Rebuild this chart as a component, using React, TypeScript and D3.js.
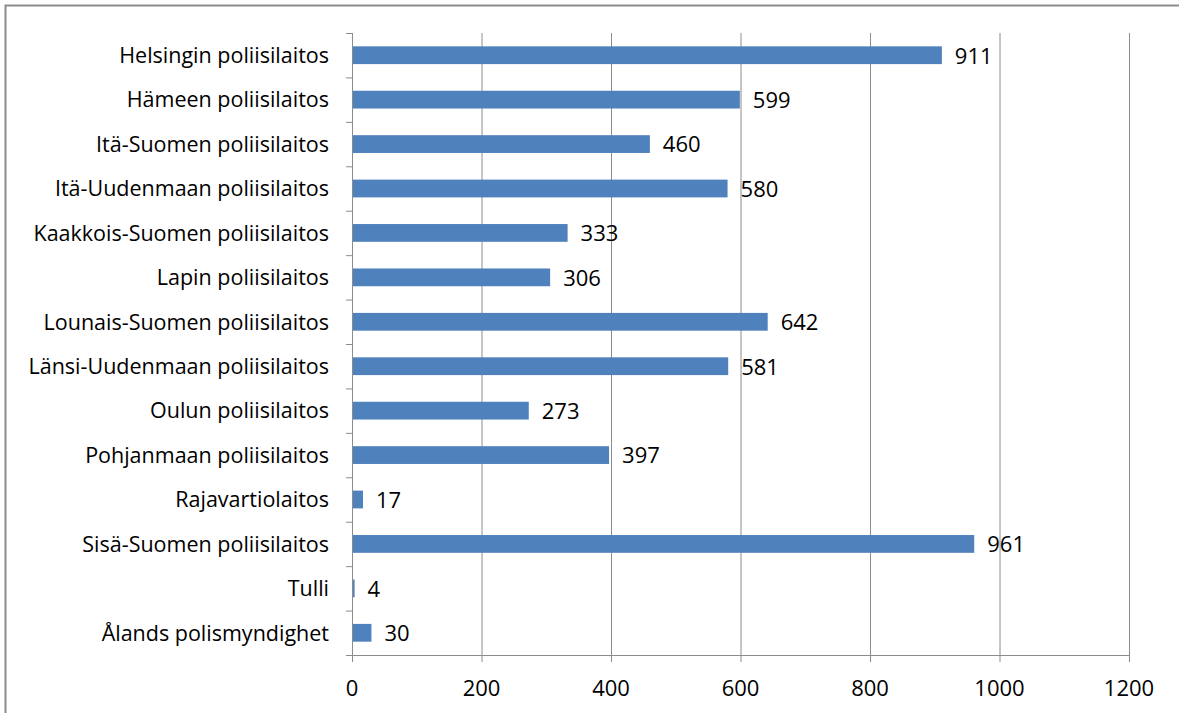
import { useEffect, useRef } from "react";
import * as d3 from "d3";

const categories = [
    "Helsingin poliisilaitos",
    "Hämeen poliisilaitos",
    "Itä-Suomen poliisilaitos",
    "Itä-Uudenmaan poliisilaitos",
    "Kaakkois-Suomen poliisilaitos",
    "Lapin poliisilaitos",
    "Lounais-Suomen poliisilaitos",
    "Länsi-Uudenmaan poliisilaitos",
    "Oulun poliisilaitos",
    "Pohjanmaan poliisilaitos",
    "Rajavartiolaitos",
    "Sisä-Suomen poliisilaitos",
    "Tulli",
    "Ålands polismyndighet",
];

const values = [911, 599, 460, 580, 333, 306, 642, 581, 273, 397, 17, 961, 4, 30];

const xTicks = [0, 200, 400, 600, 800, 1000, 1200];

const App = () => {
    const svgRef = useRef<SVGSVGElement>(null);

    useEffect(() => {
        const svg = d3.select(svgRef.current);
        svg.selectAll("*").remove();

        const width = 1179;
        const height = 713;
        const left = 352;
        const right = 1129;
        const top = 33;
        const bottom = 655;
        const font = "'Open Sans', 'Noto Sans', sans-serif";

        svg.attr("width", width).attr("height", height);

        // outer chart frame (only top and left edges visible)
        svg.append("path")
            .attr("d", `M5.5,${height} L5.5,5.5 L${width},5.5`)
            .attr("fill", "none")
            .attr("stroke", "#8c8c8c")
            .attr("stroke-width", 2);

        const x = d3.scaleLinear().domain([0, 1200]).range([left, right]);
        const y = d3.scaleBand().domain(categories).range([top, bottom]).paddingInner(0.6).paddingOuter(0.3);
        const yb = d3.scaleBand().domain(categories).range([top, bottom]);

        // gridlines
        svg.selectAll(".grid")
            .data(xTicks.slice(1))
            .enter()
            .append("line")
            .attr("x1", (d) => x(d) + 0.5)
            .attr("x2", (d) => x(d) + 0.5)
            .attr("y1", top)
            .attr("y2", bottom)
            .attr("stroke", "#8c8c8c")
            .attr("stroke-width", 1);

        // bars
        svg.selectAll(".bar")
            .data(values)
            .enter()
            .append("rect")
            .attr("x", x(0))
            .attr("y", (d, i) => y(categories[i])!)
            .attr("width", (d) => x(d) - x(0))
            .attr("height", y.bandwidth())
            .attr("fill", "#4f81bd");

        // value labels
        svg.selectAll(".val")
            .data(values)
            .enter()
            .append("text")
            .attr("x", (d) => x(d) + 13)
            .attr("y", (d, i) => y(categories[i])! + y.bandwidth() / 2)
            .attr("dy", "0.38em")
            .attr("font-family", font)
            .attr("font-size", 22)
            .attr("fill", "#000")
            .text((d) => d);

        // y axis
        svg.append("line")
            .attr("x1", left + 0.5)
            .attr("x2", left + 0.5)
            .attr("y1", top)
            .attr("y2", bottom)
            .attr("stroke", "#8c8c8c");
        svg.selectAll(".ytick")
            .data(categories.map((c) => yb(c)!).concat([bottom]))
            .enter()
            .append("line")
            .attr("x1", left - 6)
            .attr("x2", left)
            .attr("y1", (d) => d + 0.5)
            .attr("y2", (d) => d + 0.5)
            .attr("stroke", "#8c8c8c");
        svg.selectAll(".ylab")
            .data(categories)
            .enter()
            .append("text")
            .attr("x", left - 23)
            .attr("y", (d) => y(d)! + y.bandwidth() / 2)
            .attr("dy", "0.36em")
            .attr("text-anchor", "end")
            .attr("font-family", font)
            .attr("font-size", 21.5)
            .attr("fill", "#000")
            .text((d) => d);

        // x axis
        svg.append("line")
            .attr("x1", left)
            .attr("x2", right + 1)
            .attr("y1", bottom + 0.5)
            .attr("y2", bottom + 0.5)
            .attr("stroke", "#8c8c8c");
        svg.selectAll(".xtick")
            .data(xTicks)
            .enter()
            .append("line")
            .attr("x1", (d) => x(d) + 0.5)
            .attr("x2", (d) => x(d) + 0.5)
            .attr("y1", bottom)
            .attr("y2", bottom + 7)
            .attr("stroke", "#8c8c8c");
        svg.selectAll(".xlab")
            .data(xTicks)
            .enter()
            .append("text")
            .attr("x", (d) => x(d))
            .attr("y", 688)
            .attr("dy", "0.36em")
            .attr("text-anchor", "middle")
            .attr("font-family", font)
            .attr("font-size", 22)
            .attr("fill", "#000")
            .text((d) => d);
    }, []);

    return <svg ref={svgRef} style={{ position: "absolute", left: 0, top: 0, display: "block" }} />;
};

export default App;
